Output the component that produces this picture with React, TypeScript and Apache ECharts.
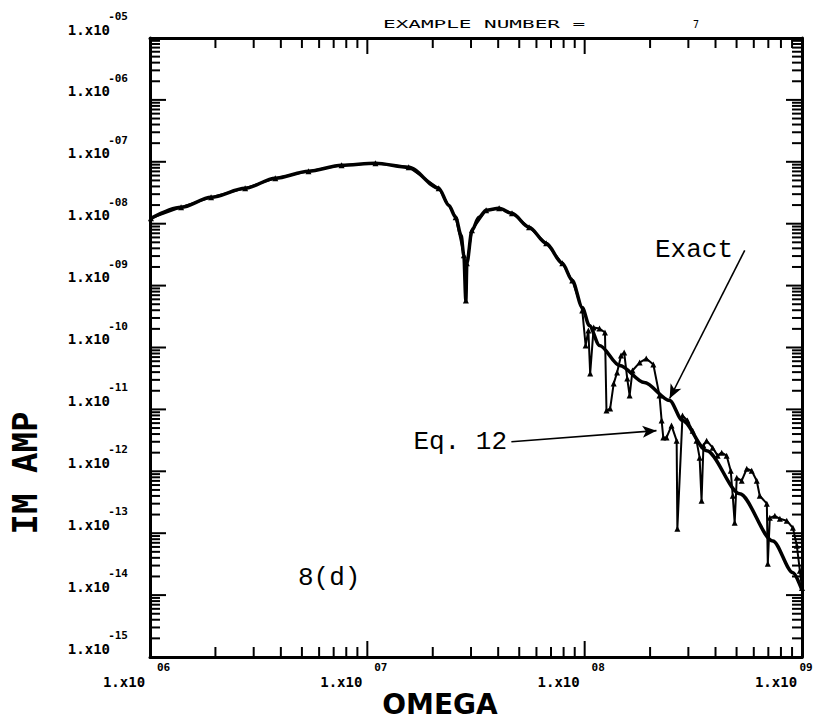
import React, { useEffect, useRef } from "react";
import * as echarts from "echarts";

// Frequencies (OMEGA) and amplitudes (IM AMP)
const exactOmega = [
  1.01e6, 1.39e6, 1.91e6, 2.74e6, 3.77e6, 5.36e6, 7.61e6, 1.09e7, 1.55e7, 2.13e7,
  2.37e7, 2.55e7, 2.7e7, 2.78e7, 2.84e7, 2.87e7, 3.03e7, 3.26e7, 3.52e7, 4.04e7,
  4.63e7, 5.55e7, 6.65e7, 7.89e7, 8.77e7, 9.75e7, 1.05e8, 1.17e8, 1.45e8, 1.88e8,
  2.46e8, 2.82e8, 3.64e8, 5.17e8, 7.34e8, 9.08e8, 1.0e9,
];
const exactAmp = [
  1.22e-8, 1.84e-8, 2.67e-8, 3.74e-8, 5.43e-8, 7.05e-8, 8.81e-8, 9.49e-8, 8.18e-8, 3.74e-8,
  1.99e-8, 1.27e-8, 6.49e-9, 3.08e-9, 5.76e-10, 2.29e-9, 7.82e-9, 1.27e-8, 1.65e-8, 1.77e-8,
  1.47e-8, 8.75e-9, 4.82e-9, 2.29e-9, 1.21e-9, 4.44e-10, 2.27e-10, 1.08e-10, 5.12e-11, 2.71e-11,
  1.39e-11, 6.59e-12, 2.15e-12, 4.34e-13, 7.5e-14, 2.3e-14, 1.2e-14,
];

const eq12Omega = [
  1.01e6, 1.39e6, 1.91e6, 2.74e6, 3.77e6, 5.36e6, 7.61e6, 1.09e7, 1.55e7, 2.13e7,
  2.55e7, 2.78e7, 2.84e7, 2.87e7, 3.03e7, 3.52e7, 4.04e7, 4.63e7, 5.55e7, 6.65e7,
  7.89e7, 8.77e7, 9.75e7, 1.01e8, 1.04e8, 1.06e8, 1.1e8, 1.17e8, 1.24e8, 1.26e8,
  1.31e8, 1.36e8, 1.41e8, 1.47e8, 1.52e8, 1.57e8, 1.61e8, 1.66e8, 1.79e8, 1.92e8,
  2.07e8, 2.21e8, 2.26e8, 2.3e8, 2.38e8, 2.51e8, 2.65e8, 2.67e8, 2.82e8, 2.97e8,
  3.14e8, 3.27e8, 3.38e8, 3.45e8, 3.52e8, 3.64e8, 3.88e8, 4.09e8, 4.27e8, 4.5e8,
  4.7e8, 4.8e8, 4.9e8, 5.01e8, 5.28e8, 5.57e8, 5.87e8, 6.19e8, 6.39e8, 6.89e8,
  6.96e8, 7.11e8, 7.5e8, 7.91e8, 8.51e8, 9.08e8, 9.47e8, 9.78e8, 1.0e9,
];
const eq12Amp = [
  1.22e-8, 1.84e-8, 2.67e-8, 3.74e-8, 5.43e-8, 7.05e-8, 8.81e-8, 9.49e-8, 8.18e-8, 3.74e-8,
  1.27e-8, 3.08e-9, 5.76e-10, 2.29e-9, 7.82e-9, 1.65e-8, 1.77e-8, 1.47e-8, 8.75e-9, 4.82e-9,
  2.29e-9, 1.21e-9, 3.97e-10, 1.08e-10, 1.88e-10, 3.79e-11, 2.11e-10, 2.03e-10, 1.75e-10, 9.57e-12,
  1.03e-11, 2.61e-11, 3.94e-11, 7.43e-11, 8.3e-11, 3.15e-11, 1.67e-11, 4.25e-11, 5.71e-11, 6.64e-11,
  5.31e-11, 1.67e-11, 6.59e-12, 3.5e-12, 3.5e-12, 5.47e-12, 3.13e-12, 1.18e-13, 7.94e-12, 6.6e-12,
  4.54e-12, 3.13e-12, 1.66e-12, 3.34e-13, 2.6e-12, 3.13e-12, 2.41e-12, 1.79e-12, 2.0e-12, 1.79e-12,
  1.02e-12, 4.03e-13, 1.47e-13, 7.87e-13, 7.05e-13, 1.1e-12, 1.02e-12, 7.05e-13, 4.03e-13, 3.0e-13,
  3.2e-14, 1.77e-13, 1.91e-13, 1.71e-13, 1.59e-13, 1.22e-13, 6.25e-14, 2.47e-14, 1.3e-14,
];

// Axis ranges
const omegaMin = 1e6;
const omegaMax = 1e9;
const ampMin = 1e-15;
const ampMax = 1e-5;
// amplitudes are plotted in units of 1e-15 so that the log scale keeps full precision
const AMP_UNIT = 1e-15;

// Log-axis tick marks: decade starts and the 1..9 multipliers inside each decade
const tickMultipliers = [1, 2, 3, 4, 5, 6, 7, 8, 9];
const omegaDecades = [1e6, 1e7, 1e8];
const ampDecades = [1e-15, 1e-14, 1e-13, 1e-12, 1e-11, 1e-10, 1e-9, 1e-8, 1e-7, 1e-6];

// Annotation arrows (data coordinates)
const exactArrow = [[5.45e8, 3.71e-9], [2.46e8, 1.5e-11]];
const eq12Arrow = [[4.6e7, 3.0e-12], [2.14e8, 4.54e-12]];

const MONO = "'DejaVu Sans Mono', monospace";
const TYPE = "'Liberation Mono', 'Courier New', monospace";

function pad2(n: number) {
  const a = Math.abs(n);
  return (n < 0 ? "-" : "") + (a < 10 ? "0" + a : String(a));
}

export default function App() {
  const ref = useRef<HTMLDivElement>(null);
  useEffect(() => {
    if (!ref.current) return;
    const chart = echarts.init(ref.current, undefined, { renderer: "svg" });
    const toAmp = (a: number) => a / AMP_UNIT;
    const expOfX = (v: number) => Math.round(Math.log10(v));
    const expOfY = (v: number) => Math.round(Math.log10(v * AMP_UNIT));

    const axisCommon = {
      axisLine: { show: true, lineStyle: { color: "#000", width: 3 } },
      axisTick: { show: false },
      minorTick: { show: false },
      splitLine: { show: false },
      minorSplitLine: { show: false },
    };

    const baseStyle = { fontSize: 14, fontWeight: "bold", fontFamily: MONO, color: "#000" };
    const expStyle = { fontSize: 11, fontWeight: "bold", fontFamily: MONO, color: "#000" };

    const xLabel = {
      show: true,
      formatter: (v: number) =>
        v >= omegaMax * 0.999
          ? `{e2|${pad2(expOfX(v))}}\n{b|1.x10}`
          : `{e|${pad2(expOfX(v))}}\n{b|1.x10}`,
      align: "center",
      verticalAlign: "top",
      margin: 4,
      showMinLabel: true,
      showMaxLabel: true,
      rich: {
        e: { ...expStyle, lineHeight: 12, padding: [0, 0, 0, 27] },
        e2: { ...expStyle, lineHeight: 12, padding: [0, 0, 0, 8] },
        b: { ...baseStyle, lineHeight: 18, padding: [0, 52, 0, 0] },
      },
    };
    const yLabel = {
      show: true,
      formatter: (v: number) => `{e|${pad2(expOfY(v))}}\n{b|1.x10}`,
      align: "right",
      verticalAlign: "bottom",
      margin: 22,
      showMinLabel: true,
      showMaxLabel: true,
      rich: {
        e: { ...expStyle, lineHeight: 9 },
        b: { ...baseStyle, lineHeight: 17, padding: [0, 18, 0, 0] },
      },
    };

    const exactData = exactOmega.map((o, i) => [o, toAmp(exactAmp[i])]);
    const eq12Data = eq12Omega.map((o, i) => [o, toAmp(eq12Amp[i])]);
    const arrowLine = (pts: number[][]) => [
      { coord: [pts[0][0], toAmp(pts[0][1])] },
      { coord: [pts[1][0], toAmp(pts[1][1])] },
    ];

    // tick items: [omega, amp, side (0 = x axis, 1 = y axis), major]
    const tickData: number[][] = [];
    omegaDecades.forEach((d) =>
      tickMultipliers.forEach((m) => tickData.push([d * m, toAmp(ampMin), 0, m === 1 ? 1 : 0]))
    );
    tickData.push([omegaMax, toAmp(ampMin), 0, 1]);
    ampDecades.forEach((d) =>
      tickMultipliers.forEach((m) => tickData.push([omegaMin, toAmp(d * m), 1, m === 1 ? 1 : 0]))
    );
    tickData.push([omegaMin, toAmp(ampMax), 1, 1]);

    const tickStyle = { stroke: "#000", lineWidth: 2 };

    const option: any = {
      animation: false,
      backgroundColor: "#fff",
      grid: { left: 150, right: 18, top: 38, bottom: 65, containLabel: false, outerBoundsMode: "none" },
      xAxis: [
        { type: "log", logBase: 10, min: omegaMin, max: omegaMax, interval: 1, position: "bottom", ...axisCommon, axisLabel: xLabel },
        { type: "log", logBase: 10, min: omegaMin, max: omegaMax, interval: 1, position: "top", ...axisCommon, axisLabel: { show: false } },
      ],
      yAxis: [
        { type: "log", logBase: 10, min: toAmp(ampMin), max: toAmp(ampMax), interval: 1, position: "left", ...axisCommon, axisLabel: yLabel },
        { type: "log", logBase: 10, min: toAmp(ampMin), max: toAmp(ampMax), interval: 1, position: "right", ...axisCommon, axisLabel: { show: false } },
      ],
      series: [
        {
          name: "ticks",
          type: "custom",
          silent: true,
          clip: false,
          z: 5,
          encode: { x: 0, y: 1 },
          data: tickData,
          renderItem: (params: any, api: any) => {
            const cs = params.coordSys;
            const side = api.value(2);
            const major = api.value(3) === 1;
            const len = major ? 16 : 10;
            if (side === 0) {
              const px = api.coord([api.value(0), toAmp(ampMin)])[0];
              const bottom = cs.y + cs.height;
              return {
                type: "group",
                children: [
                  { type: "line", shape: { x1: px, y1: bottom, x2: px, y2: bottom - len }, style: tickStyle },
                  { type: "line", shape: { x1: px, y1: cs.y, x2: px, y2: cs.y + len }, style: tickStyle },
                ],
              };
            }
            const py = api.coord([omegaMin, api.value(1)])[1];
            const right = cs.x + cs.width;
            return {
              type: "group",
              children: [
                { type: "line", shape: { x1: cs.x, y1: py, x2: cs.x + len, y2: py }, style: tickStyle },
                { type: "line", shape: { x1: right, y1: py, x2: right - len, y2: py }, style: tickStyle },
              ],
            };
          },
        },
        {
          name: "Exact",
          type: "line",
          data: exactData,
          showSymbol: false,
          symbol: "none",
          smooth: 0.3,
          smoothMonotone: "x",
          lineStyle: { color: "#000", width: 3.5 },
          markLine: {
            silent: true,
            symbol: ["none", "arrow"],
            symbolSize: [9, 14],
            label: { show: false },
            lineStyle: { color: "#000", width: 1.6, type: "solid" },
            data: [arrowLine(exactArrow), arrowLine(eq12Arrow)],
          },
        },
        {
          name: "Eq. 12",
          type: "line",
          data: eq12Data,
          symbol: "triangle",
          symbolSize: 6,
          showSymbol: true,
          itemStyle: { color: "#000" },
          lineStyle: { color: "#000", width: 2 },
        },
      ],
      graphic: [
        { type: "text", x: 383, y: 25, scaleX: 2.1, style: { text: "EXAMPLE NUMBER =", fontSize: 10, fontFamily: MONO, fill: "#000", verticalAlign: "middle", textVerticalAlign: "middle" } },
        { type: "text", x: 693, y: 24, style: { text: "7", fontSize: 10, fontFamily: MONO, fill: "#000", verticalAlign: "middle", textVerticalAlign: "middle" } },
        { type: "text", x: 25, y: 473, rotation: Math.PI / 2, style: { text: "IM AMP", fontSize: 34, fontWeight: "bold", fontFamily: MONO, fill: "#000", align: "center", textAlign: "center", verticalAlign: "middle", textVerticalAlign: "middle" } },
        { type: "text", x: 440, y: 704, style: { text: "OMEGA", fontSize: 28, fontWeight: "bold", fontFamily: "'DejaVu Sans', sans-serif", fill: "#000", align: "center", textAlign: "center", verticalAlign: "middle", textVerticalAlign: "middle" } },
        { type: "text", x: 655, y: 250, style: { text: "Exact", fontSize: 26, fontFamily: TYPE, fill: "#000", verticalAlign: "middle", textVerticalAlign: "middle" } },
        { type: "text", x: 507, y: 442, style: { text: "Eq. 12", fontSize: 26, fontFamily: TYPE, fill: "#000", align: "right", textAlign: "right", verticalAlign: "middle", textVerticalAlign: "middle" } },
        { type: "text", x: 298, y: 578, style: { text: "8(d)", fontSize: 26, fontFamily: TYPE, fill: "#000", verticalAlign: "middle", textVerticalAlign: "middle" } },
      ],
    };
    chart.setOption(option);
    return () => chart.dispose();
  }, []);
  return (
    <div
      ref={ref}
      style={{ position: "fixed", left: 0, top: 0, width: 820, height: 722, background: "#fff" }}
    />
  );
}
